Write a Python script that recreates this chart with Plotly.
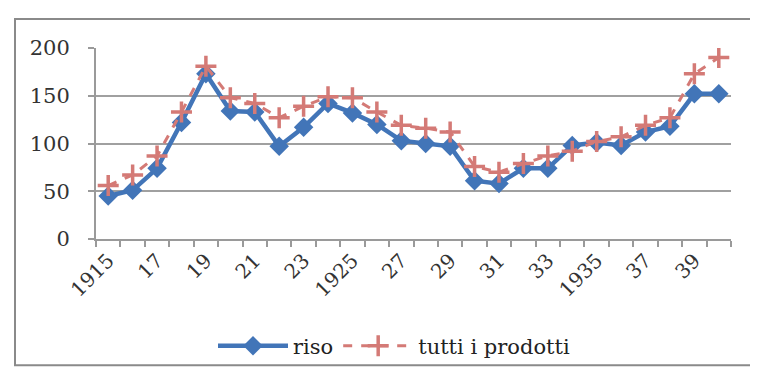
import plotly.graph_objects as go

years = list(range(1915, 1941))
riso = [45, 51, 74, 122, 173, 134, 133, 97, 117, 142, 132, 120, 103, 100, 97,
        61, 58, 74, 74, 98, 101, 98, 112, 118, 152, 152]
tutti = [56, 67, 87, 133, 181, 148, 142, 127, 139, 149, 148, 133, 119, 116, 112,
         76, 70, 79, 87, 92, 102, 107, 119, 127, 173, 190]
tick_years = [1915, 1917, 1919, 1921, 1923, 1925, 1927, 1929, 1931, 1933, 1935, 1937, 1939]
tick_labels = ["1915", "17", "19", "21", "23", "1925", "27", "29", "31", "33", "1935", "37", "39"]
y_ticks = [0, 50, 100, 150, 200]

W, H = 758, 371
L, R, T, B = 88, 35, 40, 133
pw, ph = W - L - R, H - T - B

def px_x(p):
    return (p - L) / pw

def px_y(p):
    return (H - B - p) / ph

FONT = "DejaVu Serif"

fig = go.Figure()
fig.add_trace(go.Scatter(
    x=years, y=riso, name="riso", mode="lines+markers",
    line=dict(color="#4275B8", width=4.5),
    marker=dict(symbol="diamond", size=15, color="#4275B8"),
))
fig.add_trace(go.Scatter(
    x=years, y=tutti, name="tutti i prodotti", mode="lines+markers",
    line=dict(color="#D47A76", width=3, dash="dash"),
    marker=dict(symbol="cross-thin", size=15, color="#D47A76",
                line=dict(color="#D47A76", width=3.5)),
))

fig.update_layout(
    width=W, height=H,
    margin=dict(l=L, r=R, t=T, b=B),
    paper_bgcolor="white", plot_bgcolor="white",
    font=dict(family=FONT, size=18, color="#333333"),
    showlegend=True,
    legend=dict(orientation="h", x=px_x(386), xanchor="center",
                y=px_y(349), yanchor="middle", itemwidth=70,
                font=dict(family=FONT, size=21, color="#222222"),
                bgcolor="rgba(0,0,0,0)"),
    xaxis=dict(
        range=[1914.5, 1940.5], tickmode="array", tickvals=tick_years,
        ticktext=tick_labels, tickangle=-45, ticks="",
        showgrid=False, showline=True, linecolor="#9a9a9a", linewidth=2,
        tickfont=dict(family=FONT, size=20, color="#333333"),
        minor=dict(ticks="outside", tick0=1914.5, dtick=1, ticklen=6,
                   tickwidth=2, tickcolor="#9a9a9a", showgrid=False),
        zeroline=False,
    ),
    yaxis=dict(
        range=[0, 200], tickvals=y_ticks, ticks="outside", ticklen=6,
        tickwidth=2, tickcolor="#9a9a9a",
        showgrid=True, gridcolor="#a0a0a0", gridwidth=2,
        showline=True, linecolor="#9a9a9a", linewidth=2,
        zeroline=False, ticklabelstandoff=14,
        tickfont=dict(family=FONT, size=21, color="#333333"),
    ),
    shapes=[dict(type="rect", xref="paper", yref="paper",
                 x0=px_x(7), x1=px_x(756), y0=px_y(369), y1=px_y(10),
                 line=dict(color="#8a8a8a", width=2), layer="below")],
)

fig.write_html("out.html")
